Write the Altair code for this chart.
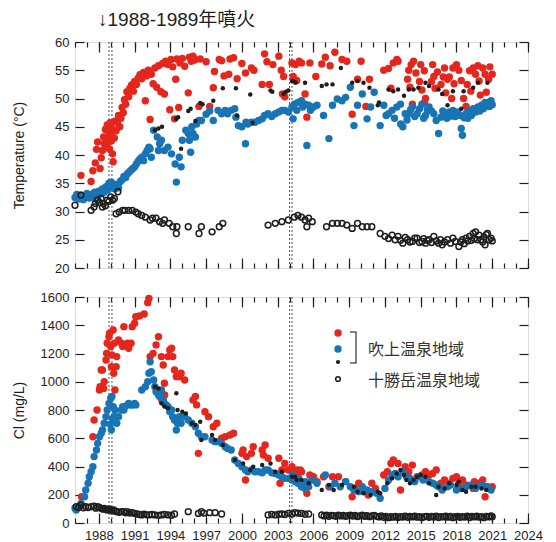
import altair as alt
import pandas as pd

# ---------------- data ----------------
MAJOR_YEARS = list(range(1988, 2025, 3))
MINOR_YEARS = list(range(1986, 2025))
T_TICKS = list(range(20, 61, 5))
CL_TICKS = list(range(0, 1601, 200))
ERUPTION_LINES = [1988.85, 1989.1, 2004.0, 2004.2]
TITLE = "↓1988-1989年噴火"
LEGEND_LABELS = ["吹上温泉地域", "十勝岳温泉地域"]
Y_TITLES = ["Temperature (°C)", "Cl (mg/L)"]

red_temp = [
    (1986.5, 36.4), (1987.35, 35.3), (1987.5, 37.2), (1987.7, 38.6), (1987.8, 41.0), (1987.9, 42.3),
    (1988.1, 37.6), (1988.2, 39.5), (1988.3, 40.8), (1988.4, 43.2), (1988.45, 42.0), (1988.55, 44.5),
    (1988.6, 41.5), (1988.7, 45.3), (1988.75, 43.3), (1988.8, 42.2), (1988.85, 44.0), (1988.9, 41.0),
    (1988.95, 45.7), (1989.0, 43.5), (1989.05, 42.5), (1989.1, 44.8), (1989.15, 40.2), (1989.2, 38.8),
    (1989.3, 43.0), (1989.35, 46.0), (1989.45, 44.3), (1989.55, 45.8), (1989.65, 47.0), (1989.75, 45.0),
    (1989.85, 46.5), (1989.95, 48.4), (1990.05, 47.5), (1990.15, 49.8), (1990.25, 49.0), (1990.35, 51.2),
    (1990.5, 50.3), (1990.6, 51.8), (1990.75, 52.4), (1990.9, 51.3), (1991.0, 53.0), (1991.15, 52.5),
    (1991.3, 53.6), (1991.45, 54.2), (1991.6, 53.5), (1991.75, 54.6), (1991.9, 49.6), (1992.0, 54.0),
    (1992.15, 55.0), (1992.3, 46.3), (1992.4, 54.3), (1992.55, 52.6), (1992.7, 55.4), (1992.85, 52.0),
    (1993.0, 55.8), (1993.2, 51.2), (1993.35, 56.2), (1993.5, 50.8), (1993.6, 56.6), (1993.8, 56.0),
    (1993.95, 48.0), (1994.05, 56.9), (1994.2, 55.6), (1994.35, 46.4), (1994.45, 53.4), (1994.55, 57.0),
    (1994.7, 48.4), (1994.8, 56.3), (1995.0, 57.1), (1995.2, 55.7), (1995.5, 51.0), (1995.6, 57.3),
    (1995.75, 56.6), (1995.9, 57.5), (1996.05, 56.8), (1996.4, 48.6), (1996.5, 57.0), (1997.0, 56.5),
    (1997.3, 48.6), (1997.6, 51.9), (1997.7, 54.8), (1998.1, 56.9), (1998.3, 56.7), (1998.5, 54.0),
    (1998.9, 54.3), (1999.0, 57.0), (1999.3, 57.2), (1999.6, 53.5), (2000.0, 56.2), (2000.3, 54.5),
    (2000.8, 55.4), (2001.0, 55.0), (2001.7, 52.5), (2001.9, 57.9), (2002.1, 56.5), (2002.3, 52.5),
    (2002.6, 56.0), (2003.1, 57.5), (2003.3, 55.0), (2003.4, 50.8), (2003.5, 53.9), (2003.6, 50.3),
    (2004.2, 56.3), (2004.3, 53.9), (2004.5, 56.0), (2004.6, 53.2), (2004.8, 56.6), (2005.0, 56.3),
    (2005.3, 50.8), (2005.45, 46.7), (2005.7, 56.3), (2006.2, 53.9), (2006.7, 56.1), (2007.0, 57.3),
    (2007.4, 55.8), (2007.8, 58.2), (2008.4, 56.9), (2008.8, 56.6), (2009.25, 47.2), (2009.7, 53.4),
    (2010.0, 56.6), (2010.4, 48.6), (2010.7, 53.4), (2011.9, 55.0), (2012.3, 55.3), (2012.5, 51.8),
    (2012.7, 56.3), (2013.0, 56.9), (2013.1, 56.6), (2013.9, 53.4), (2014.0, 55.0), (2014.1, 52.0),
    (2014.2, 56.0), (2014.3, 49.0), (2014.4, 56.6), (2014.6, 54.5), (2014.9, 53.0), (2015.0, 56.0),
    (2015.1, 51.5), (2015.3, 54.9), (2015.32, 49.3), (2015.4, 50.0), (2015.9, 53.0), (2016.0, 56.0),
    (2016.1, 53.9), (2016.2, 51.8), (2016.4, 54.7), (2016.7, 52.5), (2016.9, 53.8), (2017.0, 55.4),
    (2017.1, 51.0), (2017.25, 53.4), (2017.4, 53.8), (2017.6, 50.0), (2017.7, 55.4), (2017.8, 52.6),
    (2018.0, 56.0), (2018.2, 55.0), (2018.4, 53.2), (2018.6, 50.0), (2018.8, 48.6), (2018.9, 52.5),
    (2019.1, 54.9), (2019.2, 51.3), (2019.4, 55.4), (2019.6, 54.3), (2019.8, 55.8), (2019.9, 53.1),
    (2020.0, 50.6), (2020.2, 55.4), (2020.4, 54.3), (2020.5, 51.1), (2020.7, 53.4), (2020.8, 55.6),
    (2021.0, 54.3),
]

blue_temp = [
    (1986.0, 32.5), (1986.15, 33.0), (1986.3, 32.2), (1986.5, 32.9), (1986.7, 32.1), (1986.85, 32.6),
    (1987.0, 33.2), (1987.2, 32.4), (1987.35, 33.0), (1987.5, 32.5), (1987.65, 33.4), (1987.8, 32.8),
    (1988.0, 33.6), (1988.15, 33.1), (1988.3, 34.0), (1988.45, 33.4), (1988.6, 34.4), (1988.75, 33.8),
    (1988.85, 35.0), (1988.95, 34.3), (1989.05, 35.2), (1989.2, 34.6), (1989.35, 34.0), (1989.5, 34.8),
    (1989.65, 34.2), (1989.8, 35.3), (1989.95, 35.6), (1990.1, 36.2), (1990.25, 36.0), (1990.4, 36.7),
    (1990.55, 37.0), (1990.7, 37.3), (1990.85, 37.6), (1991.0, 37.9), (1991.15, 38.4), (1991.3, 38.9),
    (1991.45, 39.3), (1991.6, 39.6), (1991.75, 39.0), (1991.9, 40.2), (1992.05, 40.8), (1992.2, 41.4),
    (1992.3, 41.1), (1992.4, 39.6), (1992.6, 44.4), (1992.9, 43.2), (1993.0, 40.8), (1993.1, 42.0),
    (1993.25, 42.6), (1993.5, 40.8), (1993.8, 41.4), (1994.1, 40.2), (1994.4, 38.4), (1994.5, 35.2),
    (1994.75, 39.6), (1994.9, 37.9), (1995.0, 42.6), (1995.3, 44.4), (1995.5, 43.8), (1995.6, 42.6),
    (1995.7, 40.5), (1995.8, 45.0), (1995.9, 43.8), (1996.1, 43.2), (1996.2, 45.5), (1996.4, 46.1),
    (1996.6, 46.1), (1997.0, 47.2), (1997.3, 47.8), (1997.6, 46.1), (1998.0, 47.9), (1998.3, 47.3),
    (1998.6, 47.9), (1998.8, 47.3), (1999.1, 47.9), (1999.4, 48.2), (1999.5, 46.7), (1999.7, 45.2),
    (2000.0, 45.0), (2000.3, 42.0), (2000.35, 45.8), (2000.5, 45.5), (2000.8, 45.8), (2001.1, 45.8),
    (2001.4, 46.1), (2001.7, 46.4), (2001.9, 47.0), (2002.2, 47.3), (2002.5, 46.8), (2002.8, 47.3),
    (2003.1, 47.6), (2003.35, 47.9), (2003.6, 47.9), (2003.9, 47.6), (2004.2, 48.5), (2004.4, 49.0),
    (2004.7, 49.3), (2005.0, 49.6), (2005.3, 49.0), (2005.45, 41.7), (2005.6, 48.8), (2004.3, 46.4),
    (2004.6, 47.9), (2005.1, 48.5), (2005.75, 47.9), (2006.0, 48.5), (2006.3, 48.8), (2006.85, 47.0),
    (2007.3, 42.9), (2007.6, 48.8), (2008.0, 49.9), (2008.4, 49.6), (2008.7, 50.2), (2009.1, 52.0),
    (2009.4, 45.2), (2009.7, 48.8), (2010.1, 50.8), (2010.5, 46.4), (2010.8, 48.5), (2011.1, 51.1),
    (2011.6, 45.2), (2011.9, 48.8), (2012.1, 47.0), (2012.3, 47.3), (2012.6, 47.9), (2012.8, 46.5),
    (2013.0, 48.5), (2013.3, 49.0), (2013.32, 45.5), (2013.5, 45.0), (2013.7, 47.3), (2013.85, 46.2),
    (2014.0, 47.3), (2014.15, 48.0), (2014.3, 48.5), (2014.5, 46.8), (2014.7, 47.3), (2014.9, 48.2),
    (2015.1, 49.0), (2015.25, 46.5), (2015.4, 47.0), (2015.55, 48.0), (2015.7, 48.5), (2015.9, 47.8),
    (2016.1, 47.3), (2016.3, 46.1), (2016.5, 43.8), (2016.7, 46.7), (2016.85, 47.8), (2017.0, 47.3),
    (2017.2, 46.5), (2017.4, 47.6), (2017.55, 46.9), (2017.7, 47.9), (2017.9, 46.8), (2018.1, 47.6),
    (2018.3, 47.0), (2018.4, 44.7), (2018.5, 43.5), (2018.65, 46.6), (2018.8, 47.3), (2018.95, 46.5),
    (2019.1, 47.9), (2019.25, 47.0), (2019.4, 48.2), (2019.6, 47.6), (2019.8, 48.5), (2019.95, 47.8),
    (2020.1, 48.8), (2020.25, 48.2), (2020.4, 49.3), (2020.6, 49.3), (2020.75, 48.6), (2020.9, 49.6),
    (2021.0, 48.9),
]

black_temp = [
    (1992.7, 44.4), (1993.0, 44.7), (1993.3, 45.0), (1994.5, 46.4), (1994.65, 46.7), (1994.9, 41.1),
    (1995.5, 47.8), (1995.7, 48.2), (1996.1, 46.0), (1996.5, 49.2), (1996.7, 49.0), (1997.6, 49.6),
    (1998.4, 51.8), (1999.5, 51.8), (1999.6, 47.0), (2000.7, 50.7), (2000.9, 45.7), (2002.4, 51.4),
    (2002.55, 51.2), (2003.5, 50.8), (2003.7, 51.2), (2003.9, 51.4), (2004.2, 53.1), (2004.4, 53.0),
    (2004.5, 52.8), (2005.3, 52.8), (2006.7, 52.2), (2007.1, 52.5), (2007.6, 52.5), (2008.3, 55.4),
    (2009.25, 52.8), (2009.7, 53.1), (2010.2, 52.8), (2010.7, 51.9), (2011.4, 48.8), (2011.5, 49.3),
    (2012.3, 51.6), (2012.7, 51.3), (2013.1, 51.6), (2013.6, 50.5), (2014.0, 51.6), (2014.4, 51.6),
    (2014.8, 51.9), (2015.4, 52.8), (2015.7, 52.2), (2016.5, 51.6), (2016.8, 50.8), (2017.25, 48.8),
    (2017.7, 51.3), (2018.4, 48.2), (2018.6, 51.3), (2019.4, 51.9), (2019.8, 52.8), (2020.6, 52.8),
]

open_temp = [
    (1986.0, 31.1), (1986.5, 32.9), (1987.35, 30.2), (1987.6, 30.8), (1987.7, 31.4), (1987.9, 32.0),
    (1988.05, 31.6), (1988.2, 32.3), (1988.3, 30.8), (1988.4, 31.4), (1988.55, 31.0), (1988.7, 32.0),
    (1988.85, 31.8), (1989.0, 32.6), (1989.15, 32.0), (1989.3, 32.3), (1989.6, 33.5), (1989.45, 29.6),
    (1989.7, 29.9), (1990.0, 30.2), (1990.2, 30.2), (1990.5, 30.2), (1990.8, 30.2), (1991.1, 29.9),
    (1991.3, 29.6), (1991.6, 29.3), (1991.9, 29.0), (1992.3, 28.5), (1992.5, 28.8), (1992.8, 28.8),
    (1993.1, 28.2), (1993.35, 27.9), (1993.5, 28.5), (1993.9, 27.9), (1994.2, 27.3), (1994.5, 26.1),
    (1994.55, 27.3), (1995.5, 27.3), (1996.4, 26.1), (1996.6, 27.3), (1997.5, 26.4), (1998.1, 27.3),
    (1998.4, 27.9), (2002.2, 27.6), (2002.8, 27.9), (2003.35, 28.2), (2003.9, 28.5), (2004.4, 29.0),
    (2004.7, 29.3), (2005.0, 29.0), (2005.3, 28.5), (2005.45, 27.3), (2005.6, 28.8), (2005.9, 28.2),
    (2007.1, 27.3), (2007.6, 27.9), (2008.0, 27.9), (2008.4, 27.9), (2008.8, 27.6), (2009.25, 27.0),
    (2009.7, 27.9), (2010.1, 27.3), (2010.5, 27.3), (2010.9, 27.3), (2011.6, 26.1), (2012.0, 25.6),
    (2012.3, 25.2), (2012.6, 25.8), (2012.85, 25.0), (2013.1, 25.6), (2013.3, 24.9), (2013.5, 24.4),
    (2013.7, 25.4), (2013.9, 25.0), (2014.1, 24.6), (2014.3, 24.7), (2014.5, 25.3), (2014.7, 25.3),
    (2014.9, 24.5), (2015.1, 24.7), (2015.25, 25.2), (2015.4, 24.4), (2015.55, 24.9), (2015.7, 25.0),
    (2015.9, 24.5), (2016.1, 25.6), (2016.3, 24.8), (2016.5, 24.4), (2016.65, 25.0), (2016.8, 24.1),
    (2017.0, 24.6), (2017.25, 25.0), (2017.5, 24.4), (2017.7, 25.3), (2017.9, 24.7), (2018.2, 23.8),
    (2018.35, 24.6), (2018.5, 25.0), (2018.65, 24.3), (2018.8, 25.3), (2018.95, 24.8), (2019.1, 25.6),
    (2019.25, 24.9), (2019.4, 26.1), (2019.5, 25.2), (2019.6, 26.4), (2019.75, 25.0), (2019.9, 25.8),
    (2020.05, 25.0), (2020.2, 24.6), (2020.3, 25.5), (2020.4, 24.1), (2020.5, 25.9), (2020.6, 26.1),
    (2020.75, 25.0), (2020.9, 25.3), (2021.0, 24.8),
]

red_cl = [
    (1986.55, 186), (1987.5, 611), (1987.6, 729), (1987.85, 800), (1988.05, 942), (1988.1, 965),
    (1988.2, 1083), (1988.3, 1083), (1988.4, 953), (1988.45, 1000), (1988.6, 1154), (1988.65, 1201),
    (1988.7, 1272), (1988.85, 1319), (1988.9, 1343), (1989.0, 1249), (1989.05, 1107), (1989.1, 1190),
    (1989.2, 1366), (1989.25, 1060), (1989.3, 1272), (1989.35, 942), (1989.45, 1107), (1989.5, 1178),
    (1989.65, 1296), (1989.9, 1272), (1990.0, 1249), (1990.1, 1390), (1990.4, 1272), (1990.5, 1237),
    (1990.7, 1272), (1990.8, 1390), (1991.0, 1414), (1991.1, 1461), (1991.4, 1466), (1991.8, 1480),
    (1992.1, 1560), (1992.2, 1590), (1992.3, 1178), (1992.55, 1201), (1992.8, 1261), (1993.0, 1319),
    (1993.25, 1178), (1993.4, 1119), (1993.5, 989), (1993.8, 1178), (1993.95, 1225), (1994.1, 1237),
    (1994.2, 1178), (1994.35, 1083), (1994.5, 1036), (1994.75, 1036), (1994.9, 1060), (1995.2, 1012),
    (1993.27, 871), (1993.52, 906), (1995.9, 871), (1996.1, 895), (1996.2, 836), (1996.35, 493),
    (1996.9, 788), (1997.2, 753), (1997.6, 682), (1997.9, 706), (1998.3, 600), (1998.6, 611),
    (1999.0, 623), (1999.3, 635), (2000.0, 493), (2000.1, 517), (2000.3, 304), (2000.4, 470),
    (2000.8, 493), (2000.95, 540), (2001.7, 517), (2001.8, 481), (2001.95, 552), (2002.2, 458),
    (2003.1, 458), (2003.2, 281), (2003.35, 375), (2003.6, 422), (2003.9, 375), (2004.2, 398),
    (2004.45, 363), (2004.6, 375), (2004.7, 351), (2004.9, 375), (2005.0, 363), (2005.3, 281),
    (2005.45, 210), (2005.7, 340), (2006.0, 328), (2006.3, 293), (2006.85, 328), (2007.3, 257),
    (2007.6, 328), (2008.1, 328), (2008.7, 293), (2009.25, 186), (2009.5, 245), (2009.8, 281),
    (2010.2, 234), (2010.6, 198), (2010.9, 281), (2011.2, 245), (2011.9, 340), (2012.2, 363),
    (2012.5, 422), (2012.7, 446), (2013.1, 422), (2013.3, 234), (2013.7, 398), (2014.0, 363),
    (2014.3, 410), (2014.7, 328), (2015.1, 340), (2015.4, 363), (2015.7, 340), (2016.0, 351),
    (2016.3, 375), (2016.7, 281), (2017.0, 304), (2017.4, 281), (2017.7, 316), (2018.0, 328),
    (2018.2, 281), (2018.5, 304), (2018.8, 269), (2019.4, 245), (2019.5, 293), (2019.9, 281),
    (2020.2, 304), (2020.4, 186), (2020.6, 257), (2021.0, 257),
]

blue_cl = [
    (1986.0, 104), (1986.1, 92), (1986.35, 115), (1986.5, 139), (1986.8, 186), (1986.9, 234),
    (1987.1, 281), (1987.2, 328), (1987.35, 363), (1987.5, 398), (1987.6, 470), (1987.8, 517),
    (1987.9, 564), (1988.05, 611), (1988.2, 635), (1988.3, 658), (1988.45, 706), (1988.6, 753),
    (1988.7, 800), (1988.85, 847), (1989.0, 883), (1989.1, 895), (1989.2, 824), (1989.3, 753),
    (1989.35, 800), (1989.5, 706), (1989.65, 753), (1989.9, 800), (1990.0, 824), (1990.1, 800),
    (1990.2, 824), (1990.4, 836), (1990.5, 847), (1990.7, 836), (1990.8, 836), (1991.0, 847),
    (1991.1, 836), (1988.95, 700), (1989.05, 660), (1989.15, 740), (1991.6, 942), (1991.9, 965),
    (1992.1, 1000), (1992.2, 1060), (1992.3, 1142), (1992.4, 1071), (1992.6, 1012), (1992.7, 965),
    (1992.8, 930), (1993.0, 906), (1993.1, 895), (1993.25, 942), (1993.4, 871), (1993.5, 847),
    (1993.65, 836), (1993.8, 824), (1993.95, 788), (1994.1, 800), (1994.2, 753), (1994.35, 729),
    (1994.5, 658), (1994.6, 706), (1994.75, 753), (1994.9, 706), (1995.2, 753), (1995.5, 729),
    (1995.8, 706), (1996.1, 682), (1996.35, 635), (1996.6, 611), (1996.9, 611), (1997.5, 588),
    (1997.75, 576), (1998.0, 576), (1998.3, 564), (1998.6, 540), (1998.8, 528), (1999.1, 517),
    (1999.4, 446), (1999.7, 422), (2000.0, 398), (2000.3, 375), (2000.5, 363), (2000.8, 375),
    (2001.1, 363), (2001.4, 363), (2001.7, 356), (2001.95, 375), (2002.2, 375), (2002.5, 356),
    (2002.8, 351), (2003.1, 340), (2003.35, 328), (2003.6, 316), (2003.9, 316), (2004.2, 304),
    (2004.45, 293), (2004.7, 281), (2005.0, 257), (2005.3, 245), (2005.6, 257), (2004.25, 340),
    (2004.75, 316), (2005.35, 293), (2005.45, 269), (2005.9, 304), (2006.3, 281), (2007.0, 340),
    (2007.4, 257), (2007.8, 281), (2008.25, 257), (2008.7, 293), (2009.1, 257), (2009.4, 234),
    (2009.8, 222), (2010.1, 257), (2010.5, 234), (2010.9, 222), (2011.3, 210), (2011.6, 175),
    (2012.0, 245), (2012.3, 304), (2012.6, 340), (2012.85, 351), (2013.1, 328), (2013.5, 363),
    (2013.8, 328), (2014.1, 316), (2014.5, 293), (2014.8, 328), (2015.2, 304), (2015.7, 293),
    (2016.0, 281), (2016.3, 269), (2016.5, 257), (2016.8, 234), (2017.25, 257), (2017.5, 269),
    (2018.0, 234), (2018.4, 245), (2018.8, 257), (2019.25, 269), (2019.6, 245), (2020.1, 269),
    (2020.5, 257), (2020.9, 234),
]

black_cl = [
    (1992.7, 965), (1993.0, 953), (1993.25, 847), (1993.5, 824), (1993.8, 812), (1994.5, 918),
    (1994.6, 800), (1995.0, 788), (1995.3, 776), (1995.8, 706), (1996.1, 694), (1996.5, 717),
    (1996.6, 588), (1997.5, 623), (1997.75, 588), (1998.4, 552), (1999.4, 446), (2000.1, 422),
    (2000.7, 375), (2000.95, 398), (2001.7, 410), (2002.4, 422), (2002.8, 363), (2003.35, 363),
    (2004.45, 328), (2005.0, 304), (2005.6, 281), (2004.2, 328), (2004.6, 304), (2006.7, 234),
    (2007.3, 269), (2007.7, 234), (2008.4, 269), (2009.4, 257), (2009.7, 222), (2010.2, 210),
    (2010.8, 198), (2011.4, 222), (2011.6, 210), (2012.2, 281), (2012.6, 316), (2013.0, 351),
    (2013.3, 375), (2013.6, 340), (2013.8, 304), (2014.1, 281), (2014.4, 304), (2014.7, 328),
    (2015.0, 340), (2015.4, 328), (2015.7, 281), (2016.3, 198), (2016.5, 257), (2017.0, 245),
    (2017.4, 281), (2018.0, 269), (2018.2, 293), (2018.5, 234), (2018.8, 222), (2019.25, 257),
    (2019.6, 257), (2020.1, 245), (2020.5, 234),
]

open_cl = [
    (1986.1, 115), (1986.3, 110), (1986.5, 127), (1986.7, 108), (1986.9, 115), (1987.1, 110),
    (1987.35, 115), (1987.6, 120), (1987.75, 105), (1987.9, 115), (1988.05, 110), (1988.2, 104),
    (1988.35, 98), (1988.45, 104), (1988.6, 96), (1988.7, 92), (1988.85, 100), (1989.0, 92),
    (1989.1, 86), (1989.25, 92), (1989.4, 84), (1989.5, 80), (1989.7, 76), (1989.9, 80),
    (1990.1, 80), (1990.25, 72), (1990.4, 80), (1990.6, 70), (1990.8, 74), (1991.0, 68),
    (1991.2, 64), (1991.4, 60), (1991.6, 57), (1991.8, 62), (1992.0, 58), (1992.2, 57),
    (1992.45, 60), (1992.7, 57), (1993.0, 54), (1993.25, 57), (1993.5, 60), (1993.8, 57),
    (1994.1, 55), (1994.35, 64), (1995.5, 80), (1996.35, 68), (1996.6, 80), (1996.8, 70),
    (1997.3, 73), (1997.75, 73), (1998.3, 64), (2002.2, 57), (2002.5, 60), (2002.8, 57),
    (2003.1, 62), (2003.35, 64), (2003.6, 60), (2003.9, 68), (2004.2, 64), (2004.45, 73),
    (2004.7, 70), (2005.0, 68), (2005.3, 62), (2005.6, 64),
    (2006.7, 57), (2006.9, 50), (2007.1, 55), (2007.3, 48), (2007.5, 54), (2007.7, 52),
    (2007.9, 47), (2008.1, 55), (2008.3, 50), (2008.5, 53), (2008.7, 47), (2008.9, 52),
    (2009.1, 56), (2009.3, 49), (2009.5, 53), (2009.7, 46), (2009.9, 51), (2010.1, 55),
    (2010.3, 48), (2010.5, 52), (2010.7, 45), (2010.9, 50), (2011.1, 54), (2011.3, 47),
    (2011.5, 43), (2011.7, 50), (2011.9, 40), (2012.1, 46), (2012.3, 38), (2012.5, 44),
    (2012.7, 41), (2012.9, 47), (2013.1, 39), (2013.3, 45), (2013.5, 42), (2013.7, 48),
    (2013.9, 40), (2014.1, 46), (2014.3, 43), (2014.5, 49), (2014.7, 41), (2014.9, 45),
    (2015.1, 38), (2015.3, 44), (2015.5, 47), (2015.7, 40), (2015.9, 46), (2016.1, 42),
    (2016.3, 48), (2016.5, 39), (2016.7, 45), (2016.9, 43), (2017.1, 49), (2017.3, 41),
    (2017.5, 46), (2017.7, 38), (2017.9, 44), (2018.1, 47), (2018.3, 40), (2018.5, 45),
    (2018.7, 42), (2018.9, 48), (2019.1, 39), (2019.3, 46), (2019.5, 43), (2019.7, 49),
    (2019.9, 41), (2020.1, 45), (2020.3, 38), (2020.5, 47), (2020.7, 43), (2020.9, 50),
    (2021.0, 44),
]

# ---------------- styling ----------------
RED = "#e5261c"
BLUE = "#1874b5"
INK = "#1e1e1e"
NUM_FONT = "Liberation Sans, Arial, sans-serif"
TXT_FONT = "Liberation Sans, Noto Sans CJK JP, sans-serif"
CJK_FONT = "Noto Sans CJK JP, sans-serif"
W, H = 453, 226
MAJ, MIN_, YT = 10, 5, 9

X_SCALE = alt.Scale(domain=[1986, 2024], nice=False, zero=False)


def frame(pairs, field):
    return pd.DataFrame(pairs, columns=["year", field])


def xax(orient, values, size, labels=False):
    kw = dict(orient=orient, values=values, tickSize=size, offset=-size, domain=False,
              grid=False, labels=labels, title=None, tickColor=INK, tickWidth=1.2)
    if labels:
        kw.update(labelFont=NUM_FONT, labelFontSize=13, labelColor=INK, labelPadding=6,
                  labelFlush=False, labelOverlap=False, format="d")
    return alt.Axis(**kw)


def yax(orient, values, title=None, labels=False):
    kw = dict(orient=orient, values=values, tickSize=YT, offset=-YT, domain=False,
              grid=False, labels=labels, tickColor=INK, tickWidth=1.2)
    if labels:
        kw.update(labelFont=NUM_FONT, labelFontSize=13, labelColor=INK, labelPadding=6,
                  labelOverlap=False, labelFlush=False, format="d")
    if title:
        kw.update(title=title, titleFont=TXT_FONT, titleFontSize=14, titleFontWeight="normal",
                  titleColor=INK, titleX=-58, titleBaseline="bottom")
    else:
        kw.update(title=None)
    return alt.Axis(**kw)


def panel(series, field, yscale, yticks, ytitle, bottom_labels):
    red, blue, black, opn = series
    enc_y = lambda ax: alt.Y(f"{field}:Q", scale=yscale, axis=ax)
    lines = alt.Chart(pd.DataFrame({"year": ERUPTION_LINES})).mark_rule(
        color="#555555", strokeDash=[2, 2], strokeWidth=1
    ).encode(x=alt.X("year:Q", scale=X_SCALE, axis=None))
    l_red = alt.Chart(frame(red, field)).mark_circle(size=55, color=RED, opacity=1).encode(
        x=alt.X("year:Q", scale=X_SCALE, axis=xax("bottom", MAJOR_YEARS, MAJ, bottom_labels)),
        y=enc_y(yax("left", yticks, ytitle, True)))
    l_blue = alt.Chart(frame(blue, field)).mark_circle(size=55, color=BLUE, opacity=1).encode(
        x=alt.X("year:Q", scale=X_SCALE, axis=xax("top", MAJOR_YEARS, MAJ)),
        y=enc_y(yax("right", yticks)))
    l_black = alt.Chart(frame(black, field)).mark_circle(size=20, color=INK, opacity=1).encode(
        x=alt.X("year:Q", scale=X_SCALE, axis=xax("bottom", MINOR_YEARS, MIN_)),
        y=enc_y(None))
    l_open = alt.Chart(frame(opn, field)).mark_point(
        shape="circle", size=34, filled=False, color=INK, strokeWidth=1.5, opacity=1
    ).encode(
        x=alt.X("year:Q", scale=X_SCALE, axis=xax("top", MINOR_YEARS, MIN_)),
        y=enc_y(None))
    return [lines, l_red, l_blue, l_black, l_open]


top_layers = panel((red_temp, blue_temp, black_temp, open_temp), "temp",
                   alt.Scale(domain=[20, 60], nice=False, zero=False), T_TICKS, Y_TITLES[0], False)
bot_layers = panel((red_cl, blue_cl, black_cl, open_cl), "cl",
                   alt.Scale(domain=[0, 1600], nice=False, zero=False), CL_TICKS, Y_TITLES[1], True)

# legend (drawn inside the lower panel)
one = pd.DataFrame({"k": [0]})
LX, LY = 263, [36, 52, 65, 82]
legend = [
    alt.Chart(one).mark_circle(size=55, color=RED, opacity=1).encode(x=alt.value(LX), y=alt.value(LY[0])),
    alt.Chart(one).mark_circle(size=55, color=BLUE, opacity=1).encode(x=alt.value(LX), y=alt.value(LY[1])),
    alt.Chart(one).mark_circle(size=18, color=INK, opacity=1).encode(x=alt.value(LX), y=alt.value(LY[2])),
    alt.Chart(one).mark_point(shape="circle", size=22, filled=False, color=INK, strokeWidth=1.5,
                              opacity=1).encode(x=alt.value(LX), y=alt.value(LY[3])),
    alt.Chart(one).mark_rule(color="#333333", strokeWidth=1.2).encode(
        x=alt.value(281), y=alt.value(35), y2=alt.value(66)),
    alt.Chart(one).mark_rule(color="#333333", strokeWidth=1.2).encode(
        x=alt.value(275), x2=alt.value(281.6), y=alt.value(35)),
    alt.Chart(one).mark_rule(color="#333333", strokeWidth=1.2).encode(
        x=alt.value(275), x2=alt.value(281.6), y=alt.value(66)),
    alt.Chart(one).mark_text(align="left", baseline="middle", font=CJK_FONT, fontSize=16,
                             color="#333333").encode(x=alt.value(293), y=alt.value(53),
                                                     text=alt.value(LEGEND_LABELS[0])),
    alt.Chart(one).mark_text(align="left", baseline="middle", font=CJK_FONT, fontSize=16,
                             color="#333333").encode(x=alt.value(293), y=alt.value(84),
                                                     text=alt.value(LEGEND_LABELS[1])),
]

top = alt.layer(*top_layers).resolve_axis(x="independent", y="independent").properties(
    width=W, height=H,
    title=alt.TitleParams(text=TITLE, anchor="start", frame="group", dx=23, offset=6,
                          font=TXT_FONT, fontSize=19, fontWeight="normal", color=INK))
bottom = alt.layer(*bot_layers, *legend).resolve_axis(x="independent", y="independent").properties(
    width=W, height=H)

chart = alt.vconcat(top, bottom, spacing=14).properties(
    padding={"left": 3, "top": 2, "right": 4, "bottom": 0}
).configure_view(stroke=INK, strokeWidth=1.5).configure(background="white")

chart.save("out.html", embed_options={"renderer": "svg", "actions": False})
